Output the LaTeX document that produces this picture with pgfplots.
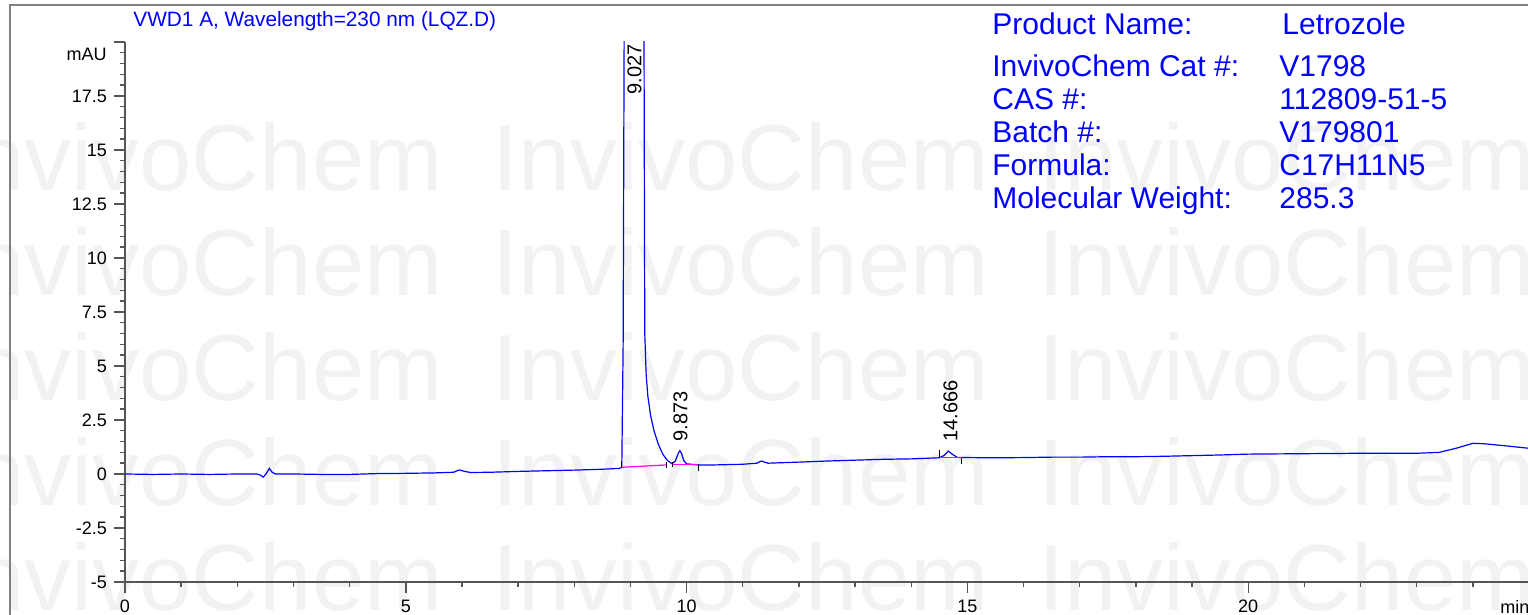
\documentclass[border=0pt]{standalone}
\usepackage{fontspec}
\setmainfont{Liberation Sans}
\usepackage{pgfplots}
\pgfplotsset{compat=1.18}
\definecolor{trace}{RGB}{0,0,255}
\definecolor{infoblue}{RGB}{0,0,255}
\definecolor{wm}{RGB}{242,242,242}
\definecolor{integ}{RGB}{255,0,255}
\definecolor{axgray}{RGB}{85,85,85}
\definecolor{framegray}{RGB}{128,128,128}
\begin{document}
\begin{tikzpicture}
\useasboundingbox (0,0) rectangle (764pt,307.5pt);
% watermark
\foreach \wx in {-27pt,246pt,519pt}{
  \foreach \wy in {212pt,159.5pt,107pt,54.5pt,2pt}{
    \node[anchor=base west, inner sep=0pt, text=wm, font=\fontsize{47}{47}\selectfont] at (\wx,\wy) {InvivoChem};
  }}
% frame
\draw[framegray, line width=1pt] (5pt,0pt) -- (5pt,305pt) -- (764pt,305pt);
% title
\node[anchor=base west, inner sep=0pt, text=infoblue, font=\fontsize{10.4}{12}\selectfont] at (66.5pt,294pt) {VWD1 A, Wavelength=230 nm (LQZ.D)};
% info block
\begin{scope}[every node/.style={anchor=base west, inner sep=0pt, text=infoblue, font=\fontsize{15}{18}\selectfont}]
\node at (496pt,290pt) {Product Name:};      \node at (641pt,290pt) {Letrozole};
\node at (496pt,269pt) {InvivoChem Cat \#:}; \node at (639.5pt,269pt) {V1798};
\node at (496pt,252.5pt) {CAS \#:};          \node at (639.5pt,252.5pt) {112809-51-5};
\node at (496pt,236pt) {Batch \#:};          \node at (639.5pt,236pt) {V179801};
\node at (496pt,219.5pt) {Formula:};         \node at (639.5pt,219.5pt) {C17H11N5};
\node at (496pt,203pt) {Molecular Weight:};  \node at (639.5pt,203pt) {285.3};
\end{scope}
\begin{axis}[
  at={(62.5pt,16.5pt)}, anchor=south west,
  scale only axis, width=702pt, height=270pt,
  xmin=0, xmax=25, ymin=-5, ymax=20,
  axis x line=bottom, axis y line=left,
  axis line style={-, axgray, line width=0.8pt},
  xtick={0,5,10,15,20}, xticklabels={0,5,10,15,20},
  minor xtick={1,2,3,4,6,7,8,9,11,12,13,14,16,17,18,19,21,22,23,24},
  ytick={-5,-2.5,0,2.5,5,7.5,10,12.5,15,17.5,20},
  yticklabels={-5,-2.5,0,2.5,5,7.5,10,12.5,15,17.5,{}},
  minor ytick={-4.5,-4,-3.5,-3,-2,-1.5,-1,-0.5,0.5,1,1.5,2,3,3.5,4,4.5,5.5,6,6.5,7,8,8.5,9,9.5,10.5,11,11.5,12,13,13.5,14,14.5,15.5,16,16.5,17,18,18.5,19,19.5},
  tick align=outside,
  major tick length=5.5pt, minor tick length=2.5pt,
  tick style={axgray, line width=0.7pt},
  ticklabel style={font=\fontsize{9}{10}\selectfont, text=black},
  /pgf/number format/assume math mode=true,
  clip=true,
]
\addplot[trace, line width=0.6pt] coordinates {
(0,0)(0.5,-0.02)(1,0)(1.5,-0.02)(2,0)(2.35,0)(2.42,-0.06)(2.46,-0.15)(2.51,0)(2.57,0.26)(2.62,0.08)(2.68,0)
(3,0)(3.5,-0.02)(4,-0.02)(4.5,0.02)(5,0.03)(5.5,0.05)(5.85,0.08)(5.95,0.19)(6.05,0.12)(6.15,0.07)(6.5,0.08)
(7,0.12)(7.5,0.15)(8,0.18)(8.5,0.22)(8.8,0.26)(8.846,0.3)(8.87,6)(8.89,22)(8.95,120)(9.03,250)(9.12,180)
(9.2,60)(9.24,22)(9.255,6.5)(9.28,4.6)(9.31,3.6)(9.36,2.7)(9.42,2.0)(9.5,1.35)(9.58,0.9)(9.66,0.62)(9.74,0.48)
(9.8,0.6)(9.85,0.95)(9.88,1.08)(9.91,0.95)(9.95,0.62)(10.0,0.47)(10.2,0.42)(10.5,0.42)(11,0.45)(11.25,0.5)
(11.33,0.6)(11.45,0.5)(12,0.55)(12.5,0.6)(13,0.64)(13.5,0.68)(14,0.7)(14.5,0.75)(14.58,0.85)(14.66,1.06)
(14.74,0.9)(14.82,0.77)(15,0.76)(15.5,0.75)(16,0.76)(16.5,0.78)(17,0.78)(17.5,0.8)(18,0.8)(18.5,0.82)(19,0.85)
(19.5,0.88)(20,0.92)(20.5,0.93)(21,0.94)(21.5,0.95)(22,0.96)(22.5,0.96)(23,0.96)(23.4,1.0)(23.7,1.19)
(24.0,1.42)(24.2,1.4)(24.6,1.3)(25,1.19)
};
% integration baselines
\addplot[integ, line width=0.6pt] coordinates {(8.846,0.31)(9.647,0.42)};
\addplot[integ, line width=0.6pt] coordinates {(9.74,0.45)(10.21,0.45)};
\addplot[integ, line width=0.6pt] coordinates {(14.5,0.76)(14.9,0.76)};
% integration markers
\addplot[black, line width=0.5pt] coordinates {(8.846,0.31)(8.846,0.6)};
\addplot[black, line width=0.5pt] coordinates {(9.647,0.26)(9.647,0.54)};
\addplot[black, line width=0.5pt] coordinates {(9.74,0.34)(9.74,0.57)};
\addplot[black, line width=0.5pt] coordinates {(10.21,0.45)(10.21,0.12)};
\addplot[black, line width=0.5pt] coordinates {(14.5,0.76)(14.5,1.1)};
\addplot[black, line width=0.5pt] coordinates {(14.9,0.76)(14.9,0.45)};
% peak labels
\node[rotate=90, anchor=east, inner sep=0pt, font=\fontsize{10}{12}\selectfont] at (axis cs:9.07,19.9) {9.027};
\node[rotate=90, anchor=west, inner sep=0pt, font=\fontsize{10}{12}\selectfont] at (axis cs:9.89,1.48) {9.873};
\node[rotate=90, anchor=west, inner sep=0pt, font=\fontsize{10}{12}\selectfont] at (axis cs:14.70,1.48) {14.666};
\end{axis}
\node[anchor=east, inner sep=0pt, font=\fontsize{9}{10}\selectfont] at (53.5pt,280.5pt) {mAU};
\node[anchor=base west, inner sep=0pt, font=\fontsize{9}{10}\selectfont] at (750pt,0.5pt) {min};
\end{tikzpicture}
\end{document}
